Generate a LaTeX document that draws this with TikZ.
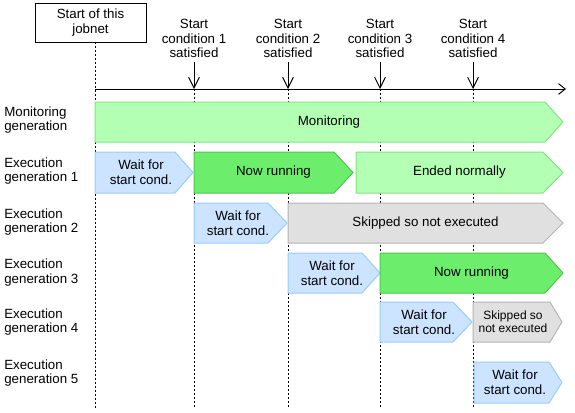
\documentclass[tikz,border=0pt]{standalone}
\usepackage{fontspec}
\setmainfont{Liberation Sans}
\usetikzlibrary{arrows.meta}
\definecolor{monfill}{HTML}{B3FFB3}
\definecolor{monline}{HTML}{80E680}
\definecolor{runfill}{HTML}{6CEE6C}
\definecolor{runline}{HTML}{4CC84C}
\definecolor{waitfill}{HTML}{CCE4FF}
\definecolor{waitline}{HTML}{99CCFF}
\definecolor{skipfill}{HTML}{E0E0E0}
\definecolor{skipline}{HTML}{B4B4B4}
\tikzset{
  monbar/.style={fill=monfill,draw=monline,line width=0.75pt},
  runbar/.style={fill=runfill,draw=runline,line width=0.75pt},
  waitbar/.style={fill=waitfill,draw=waitline,line width=0.75pt},
  skipbar/.style={fill=skipfill,draw=skipline,line width=0.75pt},
  bartext/.style={align=center,inner sep=0pt,font=\fontsize{10}{11}\selectfont},
  smalltext/.style={align=center,inner sep=0pt,font=\fontsize{9}{9.8}\selectfont},
  genlabel/.style={anchor=west,align=left,inner sep=0pt,font=\fontsize{10}{11}\selectfont},
  condlabel/.style={align=center,inner sep=3pt,font=\fontsize{10}{11}\selectfont},
  guide/.style={dash pattern=on 1.5pt off 1.5pt,line width=0.75pt},
  condarrow/.style={-{Straight Barb[length=8pt,width=8pt]},line width=0.75pt}
}
\begin{document}
\begin{tikzpicture}[x=0.75pt,y=-0.75pt]
\useasboundingbox (0,0) rectangle (575,412);

\node(start)    [draw,line width=0.75pt,minimum width=111*0.75pt,minimum height=39*0.75pt,
                 align=center,inner sep=0pt,font=\fontsize{10}{11}\selectfont]
                at (90.5,22.5)  {Start of this\\jobnet};
\node(cond1)    [condlabel]     at (194,38.5)   {Start\\condition 1\\satisfied};
\node(cond2)    [condlabel]     at (288,38.5)   {Start\\condition 2\\satisfied};
\node(cond3)    [condlabel]     at (380,38.5)   {Start\\condition 3\\satisfied};
\node(cond4)    [condlabel]     at (473,38.5)   {Start\\condition 4\\satisfied};

\coordinate(t0)     at (95,89);
\coordinate(t1)     at (194,89);
\coordinate(t2)     at (288,89);
\coordinate(t3)     at (380,89);
\coordinate(t4)     at (473,89);
\coordinate(tend)   at (566,89);
\coordinate(s0)     at (95,42);
\coordinate(b0)     at (95,408);
\coordinate(b1)     at (194,408);
\coordinate(b2)     at (288,408);
\coordinate(b3)     at (380,408);
\coordinate(b4)     at (473,408);

\draw[guide]    (s0)    -- (b0);
\draw[guide]    (t1)    -- (b1);
\draw[guide]    (t2)    -- (b2);
\draw[guide]    (t3)    -- (b3);
\draw[guide]    (t4)    -- (b4);
\draw[-{Straight Barb[length=5pt,width=8pt]},line width=0.75pt] (t0) -- (tend);
\draw[condarrow]    (cond1)     -- (t1);
\draw[condarrow]    (cond2)     -- (t2);
\draw[condarrow]    (cond3)     -- (t3);
\draw[condarrow]    (cond4)     -- (t4);

\node(lmon)     [genlabel]  at (4,120)      {Monitoring\\generation};
\node(lgen1)    [genlabel]  at (4,171)      {Execution\\generation 1};
\node(lgen2)    [genlabel]  at (4,222)      {Execution\\generation 2};
\node(lgen3)    [genlabel]  at (4,272.5)    {Execution\\generation 3};
\node(lgen4)    [genlabel]  at (4,322)      {Execution\\generation 4};
\node(lgen5)    [genlabel]  at (4,373)      {Execution\\generation 5};

\draw[monbar]   (95,102)  -- (545,102) -- (563,122) -- (545,142) -- (95,142) -- cycle;
\draw[waitbar]  (95,152)  -- (175,152) -- (193,172.5) -- (175,193) -- (95,193) -- cycle;
\draw[runbar]   (194,152) -- (334,152) -- (353,172.5) -- (334,193) -- (194,193) -- cycle;
\draw[monbar]   (356,152) -- (543,152) -- (563,172.5) -- (543,193) -- (356,193) -- cycle;
\draw[waitbar]  (194,203) -- (268,203) -- (287,223) -- (268,243) -- (194,243) -- cycle;
\draw[skipbar]  (288,203) -- (543,203) -- (563,223) -- (543,243) -- (288,243) -- cycle;
\draw[waitbar]  (288,253) -- (362,253) -- (380,273) -- (362,293) -- (288,293) -- cycle;
\draw[runbar]   (380,253) -- (545,253) -- (563,273) -- (545,293) -- (380,293) -- cycle;
\draw[waitbar]  (380,302) -- (453,302) -- (472,322) -- (453,342) -- (380,342) -- cycle;
\draw[skipbar]  (473,302) -- (550,302) -- (562,322) -- (550,342) -- (473,342) -- cycle;
\draw[waitbar]  (474,362) -- (549,362) -- (562,382.5) -- (549,403) -- (474,403) -- cycle;

\node(mon)      [bartext]   at (329,122)    {Monitoring};
\node(wait1)    [bartext]   at (141,172.5)  {Wait for\\start cond.};
\node(run1)     [bartext]   at (273.5,172.5){Now running};
\node(end1)     [bartext]   at (459.5,172.5){Ended normally};
\node(wait2)    [bartext]   at (238,223)    {Wait for\\start cond.};
\node(skip2)    [bartext]   at (425.5,223)  {Skipped so not executed};
\node(wait3)    [bartext]   at (332,273)    {Wait for\\start cond.};
\node(run3)     [bartext]   at (471.5,273)  {Now running};
\node(wait4)    [bartext]   at (424,322)    {Wait for\\start cond.};
\node(skip4)    [smalltext] at (513,322)    {Skipped so\\not executed};
\node(wait5)    [bartext]   at (515,382.5)  {Wait for\\start cond.};
\end{tikzpicture}
\end{document}
